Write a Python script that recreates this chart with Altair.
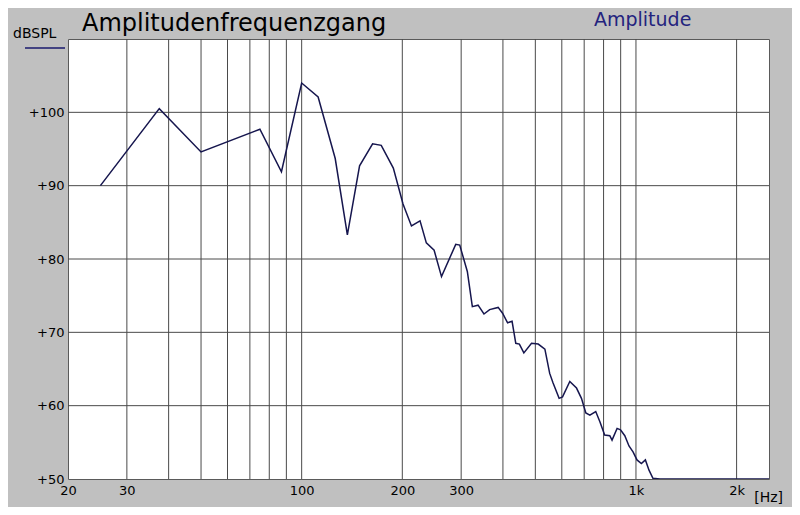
import altair as alt
import pandas as pd

# ---- data ----
freq = [25, 37.5, 50, 75, 87, 100, 112, 126, 137, 149, 163, 173, 188, 201, 213, 226, 236,
        249, 262, 289, 297, 313, 324, 337, 351, 365, 387, 399, 413, 426, 437, 448, 462,
        487, 510, 534, 552, 565, 589, 603, 634, 664, 687, 708, 728, 758, 780, 806, 835,
        848, 878, 899, 926, 953, 980, 1007, 1038, 1067, 1094, 1124, 1180, 2500]
db = [90.0, 100.5, 94.6, 97.7, 91.9, 104.0, 102.1, 93.7, 83.3, 92.7, 95.7, 95.5, 92.4,
      87.5, 84.5, 85.2, 82.2, 81.2, 77.6, 82.0, 81.9, 78.3, 73.5, 73.7, 72.5, 73.1, 73.4,
      72.6, 71.3, 71.5, 68.5, 68.4, 67.2, 68.5, 68.4, 67.7, 64.4, 63.1, 61.0, 61.2, 63.3,
      62.4, 61.0, 59.0, 58.7, 59.2, 57.8, 56.0, 55.9, 55.3, 56.9, 56.7, 55.9, 54.5, 53.7,
      52.6, 52.1, 52.6, 51.2, 50.1, 50.0, 50.0]

grid_x = [30, 40, 50, 60, 70, 80, 90, 100, 200, 300, 400, 500, 600, 700, 800, 900, 1000, 2000]
grid_y = [60, 70, 80, 90, 100]
x_ticks = [20, 30, 100, 200, 300, 1000, 2000]
y_ticks = [50, 60, 70, 80, 90, 100]

title_text = "Amplitudenfrequenzgang"
legend_text = "Amplitude"
y_unit = "dBSPL"
x_unit = "[Hz]"

FONT = "DejaVu Sans"
LINE_COLOR = "#16164e"
GRID_COLOR = "#4a4a4a"

df = pd.DataFrame({"f": freq, "db": db})
df_gx = pd.DataFrame({"f": grid_x})
df_gy = pd.DataFrame({"db": grid_y})

xscale = alt.Scale(type="log", domain=[20, 2500], nice=False)
yscale = alt.Scale(domain=[50, 110], nice=False, zero=False)

xaxis = alt.Axis(values=x_ticks, grid=False, ticks=False, domain=False, title=None,
                 labelExpr="datum.value >= 1000 ? (datum.value / 1000) + 'k' : datum.value",
                 labelPadding=5, labelFlush=False, labelOverlap=False)
yaxis = alt.Axis(values=y_ticks, grid=False, ticks=False, domain=False, title=None,
                 labelExpr="'+' + datum.value", labelPadding=4, labelOverlap=False)

grid_v = alt.Chart(df_gx).mark_rule(color=GRID_COLOR, strokeWidth=1).encode(
    x=alt.X("f:Q", scale=xscale, axis=xaxis)
)
grid_h = alt.Chart(df_gy).mark_rule(color=GRID_COLOR, strokeWidth=1).encode(
    y=alt.Y("db:Q", scale=yscale, axis=yaxis)
)
line = alt.Chart(df).mark_line(color=LINE_COLOR, strokeWidth=1.5, clip=True).encode(
    x=alt.X("f:Q", scale=xscale),
    y=alt.Y("db:Q", scale=yscale),
)


def label(text, x, y, size, color="black", align="left"):
    return alt.Chart(pd.DataFrame({"t": [text]})).mark_text(
        font=FONT, fontSize=size, color=color, align=align, baseline="alphabetic"
    ).encode(text="t:N", x=alt.value(x), y=alt.value(y))


title_mark = label(title_text, 14, -8, 24)
legend_mark = label(legend_text, 526, -13, 19, color="#23237e")
yunit_mark = label(y_unit, -55, -1, 14)
xunit_mark = label(x_unit, 715, 463, 14, align="right")
swatch = alt.Chart(pd.DataFrame({"a": [0]})).mark_rule(color="#1a1a6e", strokeWidth=1.5).encode(
    x=alt.value(-43), x2=alt.value(-3), y=alt.value(9)
)

chart = alt.layer(grid_v, grid_h, line, title_mark, legend_mark, yunit_mark, xunit_mark, swatch).properties(
    width=701, height=440,
    autosize=alt.AutoSizeParams(type="none"),
    padding={"left": 60, "top": 31, "right": 23, "bottom": 28},
    background="#c0c0c0",
).configure_view(
    fill="white", stroke="#5a5a5a", strokeWidth=1
).configure_axis(
    labelFont=FONT, labelFontSize=13, labelColor="black"
)

chart.save("out.html", embed_options={"renderer": "svg", "actions": False})
